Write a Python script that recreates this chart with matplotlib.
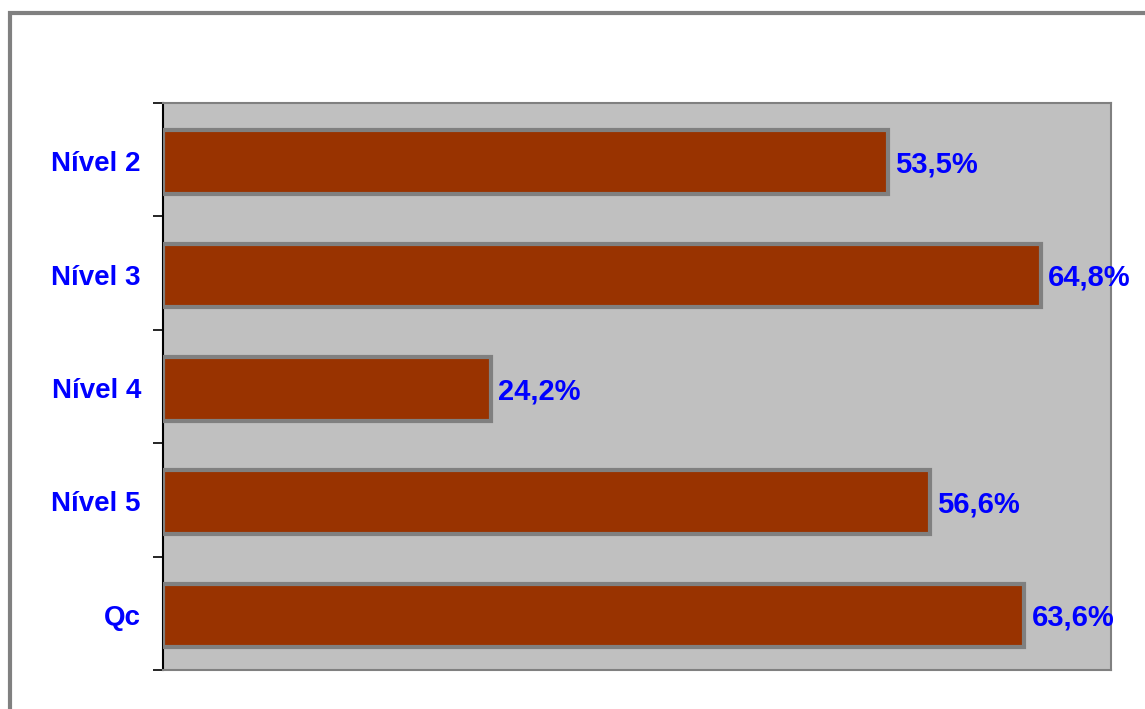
import matplotlib.pyplot as plt
from matplotlib.patches import Rectangle

categories = ["Nível 2", "Nível 3", "Nível 4", "Nível 5", "Qc"]
values = [53.5, 64.8, 24.2, 56.6, 63.6]
value_labels = ["53,5%", "64,8%", "24,2%", "56,6%", "63,6%"]

W, H = 1145, 709
fig = plt.figure(figsize=(W / 100, H / 100), dpi=100)
fig.patch.set_facecolor("white")

# outer frame (cut at right and bottom)
fig.add_artist(Rectangle((9.5 / W, -0.1), 1.2, (H - 12.5) / H + 0.1,
                         transform=fig.transFigure, fill=False,
                         edgecolor="#808080", linewidth=3))

left, right, top, bottom = 163, 1111, 103, 670
ax = fig.add_axes([left / W, 1 - bottom / H, (right - left) / W, (bottom - top) / H])
ax.set_facecolor("#C0C0C0")

n = len(categories)
ypos = list(range(n))
ax.barh([y + 0.02 for y in ypos], values, height=0.56, color="#993300",
        edgecolor="#808080", linewidth=3, zorder=3)
ax.set_xlim(0, 70)
ax.set_ylim(n - 0.5, -0.5)

for y, v, lab in zip(ypos, values, value_labels):
    ax.text(v + 0.55, y + 0.04, lab, va="center", ha="left", color="#0000FF",
            fontsize=21, fontweight="heavy", family="Liberation Sans", zorder=4)

ax.set_yticks([i - 0.5 for i in range(n + 1)])
ax.set_yticklabels([])
ax.tick_params(axis="y", direction="out", length=7, width=1.2, color="black")
ax.set_xticks([])
for y, c in zip(ypos, categories):
    ax.text(-22 / 13.54, y + 0.04, c, transform=ax.transData, ha="right", va="center",
            color="#0000FF", fontsize=20, fontweight="heavy", family="Liberation Sans")

ax.spines["left"].set_color("black")
ax.spines["left"].set_linewidth(1.5)
for s in ["top", "right", "bottom"]:
    ax.spines[s].set_color("#808080")
    ax.spines[s].set_linewidth(1.5)

fig.savefig("out.png", dpi=100)
